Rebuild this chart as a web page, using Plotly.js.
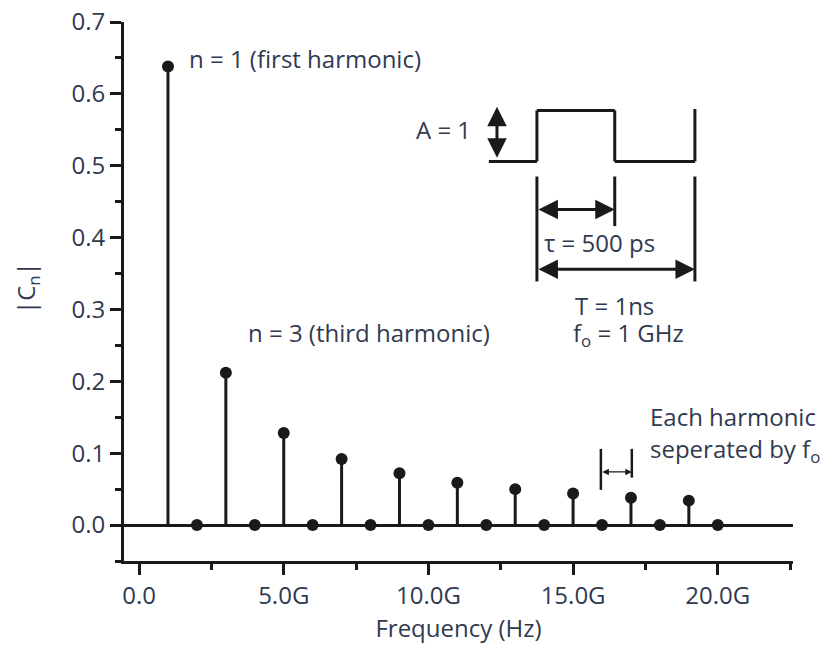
<!DOCTYPE html>
<html>
<head>
<meta charset="utf-8">
<script src="https://cdn.plot.ly/plotly-3.0.1.min.js"></script>
<style>html,body{margin:0;padding:0;background:#fff}</style>
</head>
<body>
<div id="chart" style="width:823px;height:646px"></div>
<script>
// ---- data ----
const harmonicNumbers = [1,2,3,4,5,6,7,8,9,10,11,12,13,14,15,16,17,18,19,20];
const cnMagnitude = [0.638,0,0.212,0,0.128,0,0.092,0,0.072,0,0.059,0,0.050,0,0.044,0,0.038,0,0.034,0];
const fundamentalHz = 1e9;
const xTickValuesGHz = [0,5,10,15,20];
const xTickLabels = ['0.0','5.0G','10.0G','15.0G','20.0G'];
const yTickValues = [0,0.1,0.2,0.3,0.4,0.5,0.6,0.7];
const yAxisTitle = '|C<sub>n</sub>|';

// ---- style ----
const ink = '#1a1a1a';
const txt = '#2f3a50';
const fontFam = '"Open Sans", "Noto Sans", sans-serif';
const G = 1e9;

const freqHz = harmonicNumbers.map(n => n * fundamentalHz);
const zeros = cnMagnitude.map(() => 0);

const trace = {
  type: 'scatter',
  mode: 'markers',
  x: freqHz,
  y: cnMagnitude,
  marker: {color: ink, size: 12},
  error_y: {type: 'data', symmetric: false, array: zeros, arrayminus: cnMagnitude,
            width: 0, thickness: 3, color: ink},
  hoverinfo: 'x+y',
  showlegend: false
};

function seg(x0, y0, x1, y1, w) {
  return {type: 'line', xref: 'x', yref: 'y', x0: x0 * G, y0: y0, x1: x1 * G, y1: y1,
          line: {color: ink, width: w || 3}};
}
function dblArrow(x0, y0, x1, y1, w, s) {
  return {xref: 'x', yref: 'y', axref: 'x', ayref: 'y', x: x1 * G, y: y1, ax: x0 * G, ay: y0,
          text: '', showarrow: true, arrowhead: 2, arrowside: 'end+start',
          arrowsize: s || 1, arrowwidth: w || 3, arrowcolor: ink, standoff: 0, startstandoff: 0};
}
function label(x, y, text, xanchor) {
  return {xref: 'x', yref: 'y', x: x * G, y: y, text: text, showarrow: false,
          xanchor: xanchor || 'left', yanchor: 'middle',
          font: {family: fontFam, size: 24, color: txt}};
}

const shapes = [
  // square wave
  seg(12.09, 0.506, 13.75, 0.506),
  seg(13.75, 0.506, 13.75, 0.577),
  seg(13.75, 0.577, 16.44, 0.577),
  seg(16.44, 0.577, 16.44, 0.506),
  seg(16.44, 0.506, 19.21, 0.506),
  seg(19.21, 0.506, 19.21, 0.579),
  // dimension lines
  seg(13.75, 0.485, 13.75, 0.339),
  seg(16.44, 0.485, 16.44, 0.416),
  seg(19.21, 0.485, 19.21, 0.339),
  // harmonic spacing marker
  seg(15.96, 0.106, 15.96, 0.049, 2.5),
  seg(17.03, 0.106, 17.03, 0.066, 2.5)
];

const annotations = [
  label(1.66, 0.649, 'n = 1 (first harmonic)'),
  label(3.70, 0.268, 'n = 3 (third harmonic)'),
  label(11.55, 0.551, 'A = 1', 'right'),
  label(13.92, 0.393, 'τ = 500 ps'),
  label(16.44, 0.306, 'T = 1ns', 'center'),
  label(16.9, 0.266, 'f<sub>o</sub> = 1 GHz', 'center'),
  label(17.58, 0.151, 'Each harmonic'),
  label(17.58, 0.105, 'seperated by f<sub>o</sub>'),
  dblArrow(12.37, 0.509, 12.37, 0.582, 3, 1.3),
  dblArrow(13.75, 0.439, 16.44, 0.439, 3, 1.3),
  dblArrow(13.75, 0.356, 19.21, 0.356, 3, 1.3),
  dblArrow(15.96, 0.074, 17.03, 0.074, 1.3, 1),
  // y-axis title
  {xref: 'paper', yref: 'paper', x: -0.145, y: 0.5065, text: yAxisTitle, textangle: -90,
   showarrow: false, xanchor: 'center', yanchor: 'middle',
   font: {family: fontFam, size: 24, color: txt}}
];

const layout = {
  width: 823, height: 646,
  margin: {l: 124, r: 30, t: 22, b: 85, pad: 0},
  paper_bgcolor: '#ffffff', plot_bgcolor: '#ffffff',
  font: {family: fontFam, size: 24, color: txt},
  showlegend: false,
  xaxis: {
    range: [-0.52 * G, 22.6 * G],
    tickmode: 'array',
    tickvals: xTickValuesGHz.map(v => v * G),
    ticktext: xTickLabels,
    ticks: 'outside', ticklen: 11, tickwidth: 3, tickcolor: ink,
    minor: {ticks: 'outside', ticklen: 6, tickwidth: 3, tickcolor: ink,
            tickmode: 'linear', tick0: 2.5 * G, dtick: 5 * G},
    showline: true, linecolor: ink, linewidth: 3,
    showgrid: false, zeroline: false,
    tickfont: {family: fontFam, size: 24, color: txt},
    title: {text: 'Frequency (Hz)', font: {family: fontFam, size: 24, color: txt}, standoff: 10}
  },
  yaxis: {
    range: [-0.05, 0.7],
    tickmode: 'array',
    tickvals: yTickValues,
    tickformat: '.1f',
    ticks: 'outside', ticklen: 11, tickwidth: 3, tickcolor: ink,
    minor: {ticks: 'outside', ticklen: 6, tickwidth: 3, tickcolor: ink,
            tickmode: 'linear', tick0: 0.05, dtick: 0.1},
    showline: true, linecolor: ink, linewidth: 3,
    showgrid: false,
    zeroline: true, zerolinecolor: ink, zerolinewidth: 3,
    tickfont: {family: fontFam, size: 24, color: txt}
  },
  shapes: shapes,
  annotations: annotations
};

Plotly.newPlot('chart', [trace], layout, {displayModeBar: false, staticPlot: true});
</script>
</body>
</html>
